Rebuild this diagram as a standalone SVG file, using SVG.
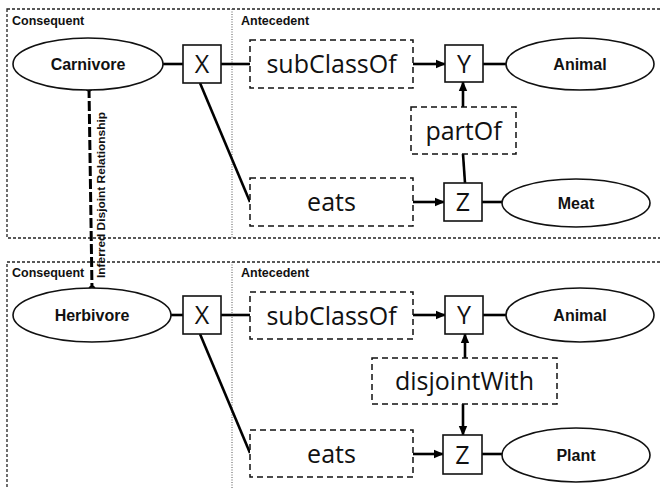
<svg xmlns="http://www.w3.org/2000/svg" width="660" height="489" viewBox="0 0 660 489">
  <style>
    .panel { fill: none; stroke: #222; stroke-width: 1.3; stroke-dasharray: 3 2; }
    .divider { fill: none; stroke: #555; stroke-width: 1; stroke-dasharray: 1 1.5; }
    .cls { fill: #fff; stroke: #111; stroke-width: 1.6; }
    .var { fill: #fff; stroke: #111; stroke-width: 1.6; }
    .prop { fill: #fff; stroke: #111; stroke-width: 1.5; stroke-dasharray: 6 4; }
    .edge { fill: none; stroke: #000; stroke-width: 2.6; }
    .infer { fill: none; stroke: #000; stroke-width: 3; stroke-dasharray: 10 3; }
    .cls-label { font-family: "Liberation Sans", Arial, sans-serif; font-weight: bold; font-size: 16px; fill: #111; text-anchor: middle; }
    .var-label { font-family: "Open Sans", "Liberation Sans", sans-serif; font-size: 25px; fill: #111; text-anchor: middle; }
    .prop-label { font-family: "Open Sans", "Liberation Sans", sans-serif; font-size: 25px; fill: #111; text-anchor: middle; }
    .panel-label { font-family: "Liberation Sans", Arial, sans-serif; font-weight: bold; font-size: 12.5px; fill: #111; }
    .infer-label { font-family: "Liberation Sans", Arial, sans-serif; font-weight: bold; font-size: 11px; fill: #111; }
  </style>
  <defs>
    <marker id="arrow" markerWidth="10" markerHeight="10" refX="9" refY="5" orient="auto" markerUnits="userSpaceOnUse">
      <path d="M0,0.8 L10,5 L0,9.2 Z" fill="#000"/>
    </marker>
    <marker id="dot" markerWidth="8" markerHeight="8" refX="4" refY="4" markerUnits="userSpaceOnUse">
      <circle cx="4" cy="4" r="3.5" fill="#000"/>
    </marker>
  </defs>

  <!-- rule panels -->
  <g id="panel-top">
    <rect class="panel" x="7" y="9" width="670" height="229"/>
    <line class="divider" x1="232" y1="9" x2="232" y2="238"/>
    <text class="panel-label" x="12" y="25">Consequent</text>
    <text class="panel-label" x="241" y="25">Antecedent</text>
  </g>
  <g id="panel-bottom">
    <rect class="panel" x="7" y="262" width="670" height="250"/>
    <line class="divider" x1="232" y1="262" x2="232" y2="489"/>
    <text class="panel-label" x="12" y="277">Consequent</text>
    <text class="panel-label" x="241" y="277">Antecedent</text>
  </g>

  <!-- connectors -->
  <g id="connectors">
    <!-- carnivore rule -->
    <line class="edge" x1="163" y1="64" x2="183" y2="64"/>
    <line class="edge" x1="221" y1="64" x2="250" y2="64"/>
    <line class="edge" x1="413" y1="64" x2="445" y2="64" marker-end="url(#arrow)"/>
    <line class="edge" x1="483" y1="64" x2="506" y2="64"/>
    <line class="edge" x1="463" y1="107" x2="463" y2="82" marker-end="url(#arrow)"/>
    <line class="edge" x1="465" y1="183" x2="463" y2="154"/>
    <line class="edge" x1="200" y1="83" x2="250" y2="202"/>
    <line class="edge" x1="413" y1="202" x2="444" y2="202" marker-end="url(#arrow)"/>
    <line class="edge" x1="482" y1="202" x2="502" y2="202"/>
    <!-- herbivore rule -->
    <line class="edge" x1="171" y1="315" x2="183" y2="315"/>
    <line class="edge" x1="221" y1="315" x2="250" y2="315"/>
    <line class="edge" x1="413" y1="315" x2="445" y2="315" marker-end="url(#arrow)"/>
    <line class="edge" x1="483" y1="315" x2="506" y2="315"/>
    <line class="edge" x1="465" y1="358" x2="465" y2="334" marker-end="url(#arrow)"/>
    <line class="edge" x1="463" y1="404" x2="463" y2="435" marker-end="url(#arrow)"/>
    <line class="edge" x1="200" y1="334" x2="250" y2="453"/>
    <line class="edge" x1="413" y1="454" x2="443" y2="454" marker-end="url(#arrow)"/>
    <line class="edge" x1="482" y1="454" x2="502" y2="454"/>
    <!-- inferred link between consequents -->
    <line class="infer" x1="89" y1="88" x2="92" y2="289" marker-start="url(#dot)" marker-end="url(#dot)"/>
    <text class="infer-label" transform="translate(105,278) rotate(-90)" textLength="166" lengthAdjust="spacingAndGlyphs">Inferred Disjoint Relationship</text>
  </g>

  <!-- carnivore rule nodes -->
  <g id="carnivore">
    <ellipse class="cls" cx="88" cy="64" rx="75" ry="26"/>
    <text class="cls-label" x="88" y="70">Carnivore</text>
  </g>
  <g id="x-top">
    <rect class="var" x="183" y="45" width="38" height="38"/>
    <text class="var-label" x="202" y="73">X</text>
  </g>
  <g id="subclassof-top">
    <rect class="prop" x="250" y="40" width="163" height="48"/>
    <text class="prop-label" x="331.5" y="73">subClassOf</text>
  </g>
  <g id="y-top">
    <rect class="var" x="445" y="45" width="38" height="37"/>
    <text class="var-label" x="464" y="72.5">Y</text>
  </g>
  <g id="animal-top">
    <ellipse class="cls" cx="580" cy="64" rx="74" ry="26"/>
    <text class="cls-label" x="580" y="70">Animal</text>
  </g>
  <g id="partof">
    <rect class="prop" x="411" y="107" width="105" height="47"/>
    <text class="prop-label" x="463.5" y="140">partOf</text>
  </g>
  <g id="eats-top">
    <rect class="prop" x="250" y="178" width="163" height="48"/>
    <text class="prop-label" x="331.5" y="211">eats</text>
  </g>
  <g id="z-top">
    <rect class="var" x="444" y="183" width="38" height="38"/>
    <text class="var-label" x="463" y="211">Z</text>
  </g>
  <g id="meat">
    <ellipse class="cls" cx="576" cy="203" rx="74" ry="24"/>
    <text class="cls-label" x="576" y="209">Meat</text>
  </g>

  <!-- herbivore rule nodes -->
  <g id="herbivore">
    <ellipse class="cls" cx="92" cy="315" rx="79" ry="27"/>
    <text class="cls-label" x="92" y="321">Herbivore</text>
  </g>
  <g id="x-bottom">
    <rect class="var" x="183" y="296" width="38" height="38"/>
    <text class="var-label" x="202" y="324">X</text>
  </g>
  <g id="subclassof-bottom">
    <rect class="prop" x="250" y="292" width="163" height="47"/>
    <text class="prop-label" x="331.5" y="324.5">subClassOf</text>
  </g>
  <g id="y-bottom">
    <rect class="var" x="445" y="296" width="38" height="38"/>
    <text class="var-label" x="464" y="324">Y</text>
  </g>
  <g id="animal-bottom">
    <ellipse class="cls" cx="580" cy="315" rx="74" ry="27"/>
    <text class="cls-label" x="580" y="321">Animal</text>
  </g>
  <g id="disjointwith">
    <rect class="prop" x="372" y="358" width="185" height="46"/>
    <text class="prop-label" x="464.5" y="390">disjointWith</text>
  </g>
  <g id="eats-bottom">
    <rect class="prop" x="250" y="430" width="163" height="47"/>
    <text class="prop-label" x="331.5" y="463">eats</text>
  </g>
  <g id="z-bottom">
    <rect class="var" x="443" y="435" width="39" height="39"/>
    <text class="var-label" x="462.5" y="463.5">Z</text>
  </g>
  <g id="plant">
    <ellipse class="cls" cx="576" cy="455" rx="74" ry="27"/>
    <text class="cls-label" x="576" y="461">Plant</text>
  </g>
</svg>
